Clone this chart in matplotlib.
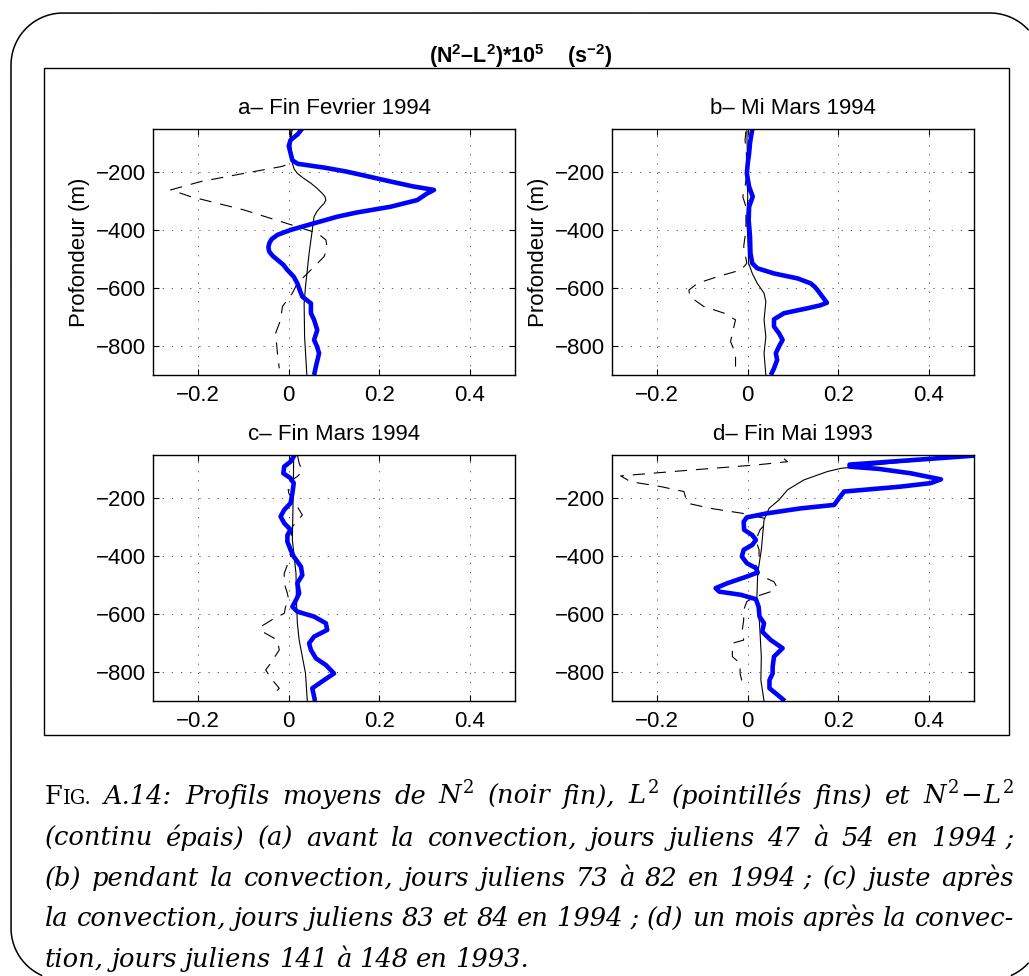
import numpy as np
import matplotlib
matplotlib.use("Agg")
import matplotlib.pyplot as plt
from matplotlib.lines import Line2D
from matplotlib.patches import Rectangle
from matplotlib.transforms import IdentityTransform

plt.rcParams['font.family'] = ['Liberation Sans', 'DejaVu Sans']
plt.rcParams['mathtext.fontset'] = 'custom'
plt.rcParams['mathtext.rm'] = 'DejaVu Serif'
plt.rcParams['mathtext.it'] = 'DejaVu Serif:italic'
plt.rcParams['mathtext.bf'] = 'Liberation Sans:bold'

# ---- data ----
panel_titles = ["a\u2013 Fin Fevrier 1994", "b\u2013 Mi Mars 1994",
                "c\u2013 Fin Mars 1994", "d\u2013 Fin Mai 1993"]
x_ticks = [-0.2, 0, 0.2, 0.4]
x_ticklabels = ["\u22120.2", "0", "0.2", "0.4"]
y_ticks = [-800, -600, -400, -200]

# a - N2-L2 (thick blue), N2 (thin black), L2 (dashed)
a_z_nl = [-50, -70, -90, -110, -135, -160, -172, -185, -198, -210, -233, -250, -262, -275,
          -297, -320, -340, -354, -377, -400, -417, -432, -446, -460, -475, -490, -503, -520,
          -538, -561, -584, -610, -630, -653, -670, -687, -710, -745, -779, -800, -825, -871,
          -900]
a_nl = [0.03, 0.02, 0.004, 0.0, 0.004, 0.008, 0.02, 0.078, 0.125, 0.160, 0.225, 0.275, 0.321,
        0.305, 0.284, 0.225, 0.150, 0.108, 0.056, 0.004, -0.025, -0.038, -0.043, -0.045,
        -0.043, -0.035, -0.025, -0.012, -0.003, 0.011, 0.019, 0.025, 0.03, 0.049, 0.049, 0.049,
        0.056, 0.063, 0.056, 0.062, 0.067, 0.060, 0.056]
a_z_n2 = [-50, -90, -135, -170, -190, -205, -222, -239, -257, -274, -285, -297, -309, -320,
          -337, -354, -400, -480, -538, -595, -653, -768, -900]
a_n2 = [0.008, 0.004, 0.006, 0.008, 0.012, 0.019, 0.033, 0.049, 0.063, 0.074, 0.080, 0.082,
        0.078, 0.071, 0.062, 0.056, 0.052, 0.045, 0.041, 0.037, 0.034, 0.035, 0.04]
a_z_l2 = [-50, -90, -135, -170, -182, -205, -233, -262, -285, -308, -331, -360, -389, -411,
          -434, -463, -492, -527, -550, -584, -618, -664, -710, -756, -825, -877]
a_l2 = [0.005, 0.003, 0.006, 0.008, -0.018, -0.099, -0.194, -0.261, -0.217, -0.158, -0.099,
        -0.040, 0.019, 0.063, 0.082, 0.085, 0.078, 0.056, 0.041, 0.019, 0.008, -0.014, -0.018,
        -0.029, -0.025, -0.021]

# b
b_z_nl = [-53, -100, -136, -170, -205, -251, -285, -320, -366, -423, -480, -515, -532, -550,
          -567, -584, -596, -607, -630, -651, -660, -670, -687, -708, -733, -756, -779, -802,
          -825, -848, -877, -900]
b_nl = [0.010, 0.005, 0.003, 0.0, -0.002, 0.003, 0.011, 0.003, 0.002, 0.005, 0.006, 0.010,
        0.021, 0.058, 0.110, 0.139, 0.148, 0.154, 0.165, 0.175, 0.160, 0.132, 0.080, 0.058,
        0.058, 0.069, 0.077, 0.069, 0.062, 0.065, 0.058, 0.051]
b_z_n2 = [-50, -136, -205, -285, -366, -423, -515, -550, -584, -618, -647, -710, -768, -825, -900]
b_n2 = [-0.002, -0.001, -0.002, 0.0, -0.002, 0.0, 0.002, 0.010, 0.021, 0.036, 0.040, 0.036,
        0.040, 0.036, 0.040]
b_z_l2 = [-60, -90, -136, -205, -251, -285, -320, -400, -457, -515, -538, -561, -584, -607,
          -630, -664, -687, -710, -756, -785, -825, -871]
b_l2 = [-0.004, -0.006, -0.003, -0.002, -0.006, -0.011, -0.004, -0.004, -0.009, -0.002, -0.015,
        -0.067, -0.111, -0.130, -0.128, -0.097, -0.052, -0.027, -0.034, -0.038, -0.027, -0.027]

# c
c_z_nl = [-52, -75, -92, -115, -132, -149, -184, -218, -241, -264, -287, -310, -328, -351,
          -379, -402, -437, -466, -494, -529, -552, -575, -592, -609, -632, -655, -678, -701,
          -724, -753, -776, -805, -828, -856, -885, -900]
c_nl = [0.013, 0.004, -0.010, -0.012, 0.004, 0.011, 0.008, 0.004, -0.010, -0.018, -0.010,
        0.004, -0.003, -0.003, 0.004, 0.011, 0.027, 0.030, 0.019, 0.023, 0.016, 0.008, 0.019,
        0.056, 0.082, 0.085, 0.056, 0.045, 0.049, 0.060, 0.082, 0.100, 0.078, 0.052, 0.056, 0.058]
c_z_n2 = [-52, -172, -345, -460, -552, -632, -690, -747, -805, -900]
c_n2 = [0.011, 0.010, 0.008, 0.016, 0.017, 0.019, 0.023, 0.030, 0.037, 0.041]
c_z_l2 = [-52, -80, -109, -126, -149, -184, -230, -259, -299, -345, -402, -460, -494, -529,
          -552, -575, -598, -615, -644, -661, -690, -724, -770, -793, -828, -856, -880]
c_l2 = [0.019, 0.023, 0.030, 0.019, -0.003, 0.0, 0.019, 0.030, 0.008, 0.004, 0.004, -0.010,
        -0.010, -0.003, 0.0, -0.007, -0.010, -0.032, -0.062, -0.058, -0.025, -0.021, -0.040,
        -0.051, -0.036, -0.021, -0.035]

# d
d_z_nl = [-52, -70, -85, -92, -100, -115, -136, -149, -161, -178, -200, -224, -236, -253,
          -267, -282, -310, -328, -345, -362, -379, -402, -425, -442, -457, -471, -494, -511,
          -523, -534, -549, -575, -609, -632, -661, -690, -718, -747, -782, -805, -828, -856,
          -879, -900]
d_nl = [0.52, 0.36, 0.225, 0.225, 0.29, 0.36, 0.427, 0.404, 0.338, 0.213, 0.202, 0.191,
        0.117, 0.043, -0.002, -0.009, -0.008, 0.010, 0.018, 0.010, -0.009, -0.013, -0.002,
        0.018, 0.022, -0.002, -0.045, -0.071, -0.063, -0.015, 0.018, 0.024, 0.026, 0.036,
        0.032, 0.051, 0.077, 0.058, 0.055, 0.055, 0.048, 0.048, 0.066, 0.082]
d_z_n2 = [-52, -80, -98, -109, -138, -172, -207, -236, -276, -310, -379, -460, -552, -632,
          -747, -828, -900]
d_n2 = [0.52, 0.321, 0.206, 0.176, 0.124, 0.088, 0.069, 0.047, 0.036, 0.034, 0.030, 0.022,
        0.020, 0.026, 0.030, 0.029, 0.036]
d_z_l2 = [-65, -75, -86, -103, -124, -144, -161, -178, -200, -218, -236, -253, -270, -287,
          -310, -345, -379, -402, -425, -460, -489, -506, -523, -540, -557, -586, -621, -655,
          -690, -701, -747, -770, -805, -856]
d_l2 = [0.080, 0.088, 0.021, -0.119, -0.281, -0.259, -0.192, -0.141, -0.137, -0.134, -0.082,
        -0.012, 0.036, 0.041, 0.027, 0.018, 0.025, 0.025, 0.018, 0.018, 0.058, 0.064, 0.051,
        0.018, -0.002, -0.009, -0.009, -0.012, -0.009, -0.034, -0.034, -0.017, -0.017, -0.009]

panels = [
    (a_z_nl, a_nl, a_z_n2, a_n2, a_z_l2, a_l2),
    (b_z_nl, b_nl, b_z_n2, b_n2, b_z_l2, b_l2),
    (c_z_nl, c_nl, c_z_n2, c_n2, c_z_l2, c_l2),
    (d_z_nl, d_nl, d_z_n2, d_n2, d_z_l2, d_l2),
]

W, H = 1029, 976
fig = plt.figure(figsize=(W / 100, H / 100), dpi=100)
ident = IdentityTransform()


# outer rounded frame, in image pixels (y down); the parts off the page are dropped
def rounded_frame(x0, y0, x1, y1, r):
    t = np.linspace(0, np.pi / 2, 60)
    xs, ys = [], []
    for cx, cy, a0 in [(x1 - r, y0 + r, 0), (x0 + r, y0 + r, np.pi / 2),
                       (x0 + r, y1 - r, np.pi), (x1 - r, y1 - r, 1.5 * np.pi)]:
        xs += list(cx + r * np.cos(a0 + t))
        ys += list(cy - r * np.sin(a0 + t))
    xs.append(xs[0])
    ys.append(ys[0])
    xs, ys = np.array(xs), np.array(ys)
    off = (xs > W - 0.5) | (ys > H - 0.5)
    xs[off] = np.nan
    ys[off] = np.nan
    return xs, H - ys


fx, fy = rounded_frame(11, 13, 1042, 980, 52)
fig.add_artist(Line2D(fx, fy, transform=ident, color='black', lw=1.1))
fig.patches.append(Rectangle((44, H - 735), 965, 667, transform=ident,
                             fill=False, lw=1.0, ec='black'))

fig.text(521 / W, 1 - 63 / H,
         "(N$^\\mathbf{2}$\u2013L$^\\mathbf{2}$)*10$^\\mathbf{5}$    (s$^\\mathbf{-2}$)",
         ha='center', va='baseline', fontsize=15.5, fontweight='bold')

lefts = [153, 612, 153, 612]
bottoms = [375, 375, 701, 701]
for i, (zn, nl, z2, n2, zl, l2) in enumerate(panels):
    ax = fig.add_axes([lefts[i] / W, 1 - bottoms[i] / H, 362 / W, 246 / H])
    ax.plot(l2, zl, color='black', lw=0.8, dashes=(11, 8))
    ax.plot(n2, z2, color='black', lw=0.8)
    ax.plot(nl, zn, color='#0000ff', lw=3.3, solid_joinstyle='round',
            solid_capstyle='butt')
    ax.set_xlim(-0.3, 0.5)
    ax.set_ylim(-900, -52)
    ax.set_xticks(x_ticks)
    ax.set_xticklabels(x_ticklabels)
    ax.set_yticks(y_ticks)
    ax.grid(True, color='0.25', lw=0.6, linestyle=(0, (1.5, 9.5)))
    ax.tick_params(direction='in', top=True, right=True, length=4, width=0.8,
                   labelsize=16)
    ax.tick_params(axis='x', pad=7)
    ax.tick_params(axis='y', pad=5)
    for sp in ax.spines.values():
        sp.set_linewidth(1.0)
    ax.set_title(panel_titles[i], fontsize=16, pad=11)
    if i < 2:
        ax.set_ylabel("Profondeur (m)", fontsize=16, labelpad=4)

# ---- caption, justified like the LaTeX original ----
CAP = 18.5
it = dict(family='DejaVu Serif', style='italic', fontsize=CAP)
up = dict(family='DejaVu Serif', fontsize=CAP)
upsc = dict(family='DejaVu Serif', fontsize=CAP * 0.76)

lines = [
    "A.14: Profils moyens de $N^2$ (noir fin), $L^2$ (pointill\u00e9s fins) et $N^2\\!-\\!L^2$",
    "(continu \u00e9pais) (a) avant la convection, jours juliens 47 \u00e0 54 en 1994~;",
    "(b) pendant la convection, jours juliens 73 \u00e0 82 en 1994~; (c) juste apr\u00e8s",
    "la convection, jours juliens 83 et 84 en 1994~; (d) un mois apr\u00e8s la convec-",
    "tion, jours juliens 141 \u00e0 148 en 1993.",
]
baselines = [804, 846, 886, 926, 967]
renderer = fig.canvas.get_renderer()


def place_line(tokens, ybase, x0, x1, justify):
    groups = []
    for tok in tokens:
        segs = []
        for s, kw in tok:
            t = fig.text(0, 0, s, transform=ident, ha='left', va='baseline', **kw)
            segs.append((t, t.get_window_extent(renderer).width))
        groups.append(segs)
    widths = [sum(w for _, w in g) for g in groups]
    if justify:
        gap = (x1 - x0 - sum(widths)) / (len(groups) - 1)
    else:
        gap = 0.3 * CAP * 100 / 72
    x = x0
    for g, w in zip(groups, widths):
        xx = x
        for t, sw in g:
            t.set_position((xx, H - ybase))
            xx += sw
        x += w + gap


for k, line in enumerate(lines):
    toks = [[(w.replace('~', ' '), it)] for w in line.split(' ')]
    if k == 0:
        toks = [[("F", up), ("IG.", upsc)]] + toks
    place_line(toks, baselines[k], 45, 1014, justify=(k < 4))

fig.savefig("out.png", dpi=100)
